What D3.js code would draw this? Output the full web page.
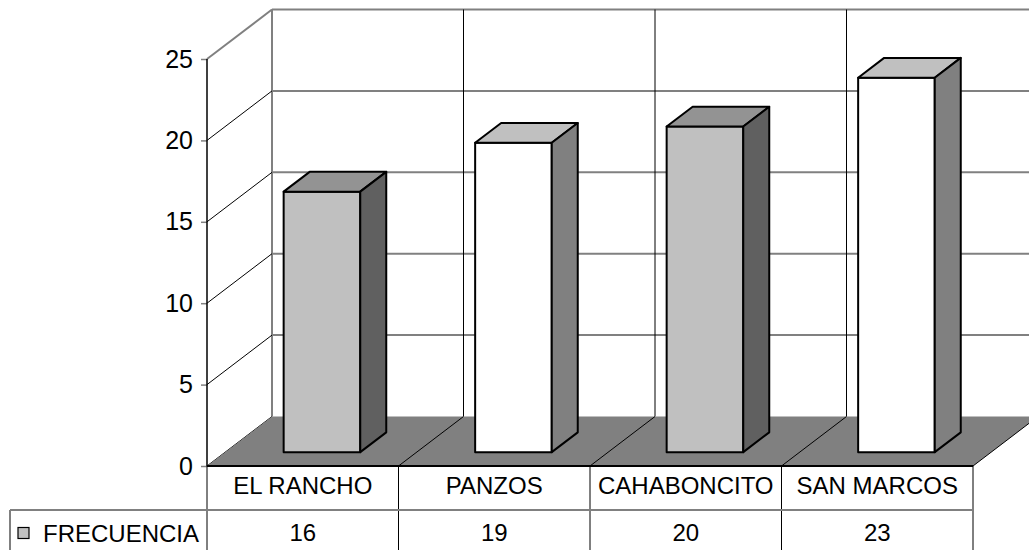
<!DOCTYPE html>
<html>
<head>
<meta charset="utf-8">
<script src="https://cdn.jsdelivr.net/npm/d3@7"></script>
<style>
  body { margin: 0; background: #fff; }
  svg { display: block; font-family: "Liberation Sans", Arial, sans-serif; }
</style>
</head>
<body>
<div id="chart"></div>
<script>
// data
var categories = ["EL RANCHO", "PANZOS", "CAHABONCITO", "SAN MARCOS"];
var values = [16, 19, 20, 23];
var seriesName = "FRECUENCIA";
var yTicks = [0, 5, 10, 15, 20, 25];

// bar shading (front, top, side)
var frontColors = ["#c0c0c0", "#ffffff", "#c0c0c0", "#ffffff"];
var topColors = ["#939393", "#c0c0c0", "#939393", "#c0c0c0"];
var sideColors = ["#606060", "#808080", "#606060", "#808080"];

var W = 1029, H = 550;
// depth offset of the back wall
var DX = 65, DY = -49.5;
// bar depth placement (fraction of floor depth)
var zFront = 0.28, zBack = 0.68;

var svg = d3.select("#chart")
    .append("svg")
    .attr("width", W)
    .attr("height", H);

var x = d3.scaleBand()
    .domain(categories)
    .range([207, 973])
    .paddingInner(0)
    .paddingOuter(0);

var y = d3.scaleLinear()
    .domain([0, 25])
    .range([466, 59]);

function proj(px, py, z) {
    return [px + z * DX, py + z * DY];
}
function poly(pts) {
    return pts.map(function(p) { return p[0] + "," + p[1]; }).join(" ");
}

var x0 = x.range()[0], x1 = x.range()[1];
var boundaries = categories.map(function(c) { return x(c); }).concat([x1]);

// back wall gridlines
svg.append("g").selectAll("line")
    .data(yTicks.filter(function(t) { return t > 0; }))
    .enter().append("line")
    .attr("x1", x0 + DX).attr("x2", x1 + DX)
    .attr("y1", function(d) { return y(d) + DY; })
    .attr("y2", function(d) { return y(d) + DY; })
    .attr("stroke", "#808080")
    .attr("stroke-width", 2);

// back wall verticals
svg.append("g").selectAll("line")
    .data(boundaries.slice(1, -1))
    .enter().append("line")
    .attr("x1", function(d) { return d + DX; })
    .attr("x2", function(d) { return d + DX; })
    .attr("y1", y(25) + DY).attr("y2", y(0) + DY)
    .attr("stroke", "#000")
    .attr("stroke-width", 1);

svg.append("line")
    .attr("x1", x0 + DX).attr("x2", x0 + DX)
    .attr("y1", y(25) + DY).attr("y2", y(0) + DY)
    .attr("stroke", "#808080")
    .attr("stroke-width", 2);

// side wall diagonals
svg.append("g").selectAll("line")
    .data(yTicks)
    .enter().append("line")
    .attr("x1", x0).attr("x2", x0 + DX)
    .attr("y1", function(d) { return y(d); })
    .attr("y2", function(d) { return y(d) + DY; })
    .attr("stroke", function(d) { return d === 25 ? "#808080" : "#000"; })
    .attr("stroke-width", function(d) { return d === 25 ? 2 : 1; });

// floor
svg.append("polygon")
    .attr("points", poly([[x0, y(0)], [x1, y(0)], [x1 + DX, y(0) + DY], [x0 + DX, y(0) + DY]]))
    .attr("fill", "#808080");

svg.append("g").selectAll("line")
    .data(boundaries.slice(1))
    .enter().append("line")
    .attr("x1", function(d) { return d; })
    .attr("x2", function(d) { return d + DX; })
    .attr("y1", y(0)).attr("y2", y(0) + DY)
    .attr("stroke", "#000")
    .attr("stroke-width", 1);

// bars
var barW = x.bandwidth() * 0.4;
var bars = svg.append("g").selectAll("g")
    .data(values)
    .enter().append("g");

function corners(d, i) {
    var bx0 = x(categories[i]) + (x.bandwidth() - barW) / 2 + 1;
    var bx1 = bx0 + barW;
    return {
        fbl: proj(bx0, y(0), zFront), fbr: proj(bx1, y(0), zFront),
        ftl: proj(bx0, y(d), zFront), ftr: proj(bx1, y(d), zFront),
        btl: proj(bx0, y(d), zBack), btr: proj(bx1, y(d), zBack),
        bbr: proj(bx1, y(0), zBack)
    };
}

bars.append("polygon")
    .attr("points", function(d, i) { var c = corners(d, i); return poly([c.fbl, c.ftl, c.ftr, c.fbr]); })
    .attr("fill", function(d, i) { return frontColors[i]; });
bars.append("polygon")
    .attr("points", function(d, i) { var c = corners(d, i); return poly([c.ftl, c.btl, c.btr, c.ftr]); })
    .attr("fill", function(d, i) { return topColors[i]; });
bars.append("polygon")
    .attr("points", function(d, i) { var c = corners(d, i); return poly([c.ftr, c.btr, c.bbr, c.fbr]); })
    .attr("fill", function(d, i) { return sideColors[i]; });
bars.selectAll("polygon")
    .attr("stroke", "#000")
    .attr("stroke-width", 2)
    .attr("stroke-linejoin", "round");

// value axis
var yAxis = svg.append("g")
    .attr("transform", "translate(" + x0 + ",0)")
    .call(d3.axisLeft(y).tickValues(yTicks).tickSize(6).tickPadding(8));
yAxis.select(".domain").remove();
yAxis.selectAll(".tick line").attr("stroke", "#808080").attr("stroke-width", 1.5);
yAxis.selectAll(".tick text")
    .attr("fill", "#000")
    .style("font-size", "25px")
    .style("font-family", "Liberation Sans, Arial, sans-serif");

svg.append("line")
    .attr("x1", x0).attr("x2", x0)
    .attr("y1", y(25)).attr("y2", y(0))
    .attr("stroke", "#000").attr("stroke-width", 1.5);

// data table
var rowTop = y(0), rowMid = 510, rowBot = H;

svg.append("g").selectAll("line")
    .data(boundaries)
    .enter().append("line")
    .attr("x1", function(d) { return d; })
    .attr("x2", function(d) { return d; })
    .attr("y1", rowTop).attr("y2", rowBot)
    .attr("stroke", "#000").attr("stroke-width", 1);

svg.append("line")
    .attr("x1", 10).attr("x2", 10)
    .attr("y1", rowMid).attr("y2", rowBot)
    .attr("stroke", "#000").attr("stroke-width", 1);

svg.append("line")
    .attr("x1", 10).attr("x2", x1)
    .attr("y1", rowMid).attr("y2", rowMid)
    .attr("stroke", "#808080").attr("stroke-width", 2);

svg.append("line")
    .attr("x1", x0).attr("x2", x1)
    .attr("y1", rowTop).attr("y2", rowTop)
    .attr("stroke", "#000").attr("stroke-width", 2);

svg.append("g").selectAll("text")
    .data(categories)
    .enter().append("text")
    .attr("x", function(d) { return x(d) + x.bandwidth() / 2; })
    .attr("y", 494)
    .attr("text-anchor", "middle")
    .style("font-size", "24px")
    .text(function(d) { return d; });

svg.append("g").selectAll("text")
    .data(values)
    .enter().append("text")
    .attr("x", function(d, i) { return x(categories[i]) + x.bandwidth() / 2; })
    .attr("y", 541)
    .attr("text-anchor", "middle")
    .style("font-size", "24px")
    .text(function(d) { return d; });

svg.append("rect")
    .attr("x", 18).attr("y", 527.5)
    .attr("width", 11).attr("height", 11)
    .attr("fill", "#c0c0c0")
    .attr("stroke", "#000").attr("stroke-width", 1.2);

svg.append("text")
    .attr("x", 43).attr("y", 542)
    .style("font-size", "24px")
    .text(seriesName);
</script>
</body>
</html>
